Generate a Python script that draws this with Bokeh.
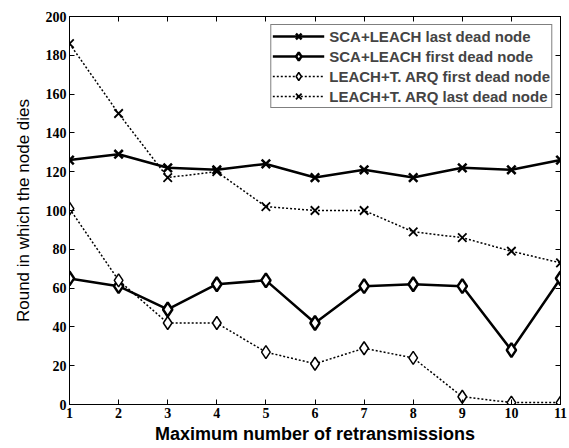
from bokeh.plotting import figure
from bokeh.models import LinearAxis, Legend, LegendItem, FixedTicker, Range1d
from bokeh.embed import file_html
from bokeh.resources import INLINE

x = [1, 2, 3, 4, 5, 6, 7, 8, 9, 10, 11]
sca_last = [126, 129, 122, 121, 124, 117, 121, 117, 122, 121, 126]
sca_first = [65, 61, 49, 62, 64, 42, 61, 62, 61, 28, 65]
arq_first = [101, 64, 42, 42, 27, 21, 29, 24, 4, 1, 1]
arq_last = [186, 150, 117, 120, 102, 100, 100, 89, 86, 79, 73]
labels = ["SCA+LEACH last dead node", "SCA+LEACH first dead node",
          "LEACH+T. ARQ first dead node", "LEACH+T. ARQ last dead node"]
x_ticks = list(range(1, 12))
y_ticks = list(range(0, 201, 20))

p = figure(width=569, height=448, output_backend="svg", toolbar_location=None,
           x_range=Range1d(1, 11), y_range=Range1d(0, 200),
           min_border_left=69, min_border_right=9, min_border_top=16, min_border_bottom=44)
p.xgrid.visible = False
p.ygrid.visible = False
p.outline_line_color = "black"
p.outline_line_width = 1
p.background_fill_color = "white"
p.border_fill_color = "white"

for ax, ticks in ((p.xaxis[0], x_ticks), (p.yaxis[0], y_ticks)):
    ax.ticker = FixedTicker(ticks=ticks)
    ax.major_tick_in = 5
    ax.major_tick_out = 0
    ax.minor_tick_line_color = None
    ax.axis_line_color = "black"
    ax.major_label_text_font = "Liberation Serif"
    ax.major_label_text_font_style = "bold"
    ax.major_label_text_font_size = "14px"
    ax.major_label_text_color = "black"
    ax.axis_label_text_font = "Liberation Sans"
    ax.axis_label_text_color = "black"
p.xaxis[0].major_label_standoff = 3
p.yaxis[0].major_label_standoff = 3
p.xaxis[0].axis_label = "Maximum number of retransmissions"
p.yaxis[0].axis_label = "Round in which the node dies"
p.xaxis[0].axis_label_text_font_style = "bold"
p.xaxis[0].axis_label_text_font_size = "18px"
p.yaxis[0].axis_label_text_font_style = "normal"
p.yaxis[0].axis_label_text_font_size = "17px"
p.xaxis[0].axis_label_standoff = 3
p.yaxis[0].axis_label_standoff = 10

for loc, ticks in (("right", y_ticks), ("above", x_ticks)):
    a = LinearAxis(ticker=FixedTicker(ticks=ticks), major_tick_in=5, major_tick_out=0,
                   minor_tick_line_color=None, major_label_text_font_size="1px",
                   major_label_text_color=None,
                   major_label_standoff=0, axis_line_color="black")
    p.add_layout(a, loc)

r1l = p.line(x, sca_last, line_color="black", line_width=2.5)
r1m = p.scatter(x, sca_last, marker="x", size=12, line_color="black", line_width=2.5)
r2l = p.line(x, sca_first, line_color="black", line_width=2.5)
r2m = p.scatter(x, sca_first, marker="diamond", size=14, line_color="black",
                fill_color="white", line_width=2.5)
r3l = p.line(x, arq_first, line_color="black", line_width=1.5, line_dash="2 2")
r3m = p.scatter(x, arq_first, marker="diamond", size=13, line_color="black",
                fill_color="white", line_width=1.5)
r4l = p.line(x, arq_last, line_color="black", line_width=1.5, line_dash="2 2")
r4m = p.scatter(x, arq_last, marker="x", size=12, line_color="black", line_width=1.8)

legend = Legend(items=[
    LegendItem(label=labels[0], renderers=[r1l, r1m]),
    LegendItem(label=labels[1], renderers=[r2l, r2m]),
    LegendItem(label=labels[2], renderers=[r3l, r3m]),
    LegendItem(label=labels[3], renderers=[r4l, r4m]),
], location="top_right")
legend.margin = 8
legend.padding = 1
legend.spacing = 0
legend.glyph_width = 52
legend.glyph_height = 20
legend.label_height = 20
legend.label_standoff = 5
legend.label_text_font = "Liberation Sans"
legend.label_text_font_style = "bold"
legend.label_text_font_size = "15px"
legend.border_line_color = "black"
legend.border_line_width = 1
legend.background_fill_alpha = 1
p.add_layout(legend)

open("out.html", "w").write(file_html(p, INLINE))
